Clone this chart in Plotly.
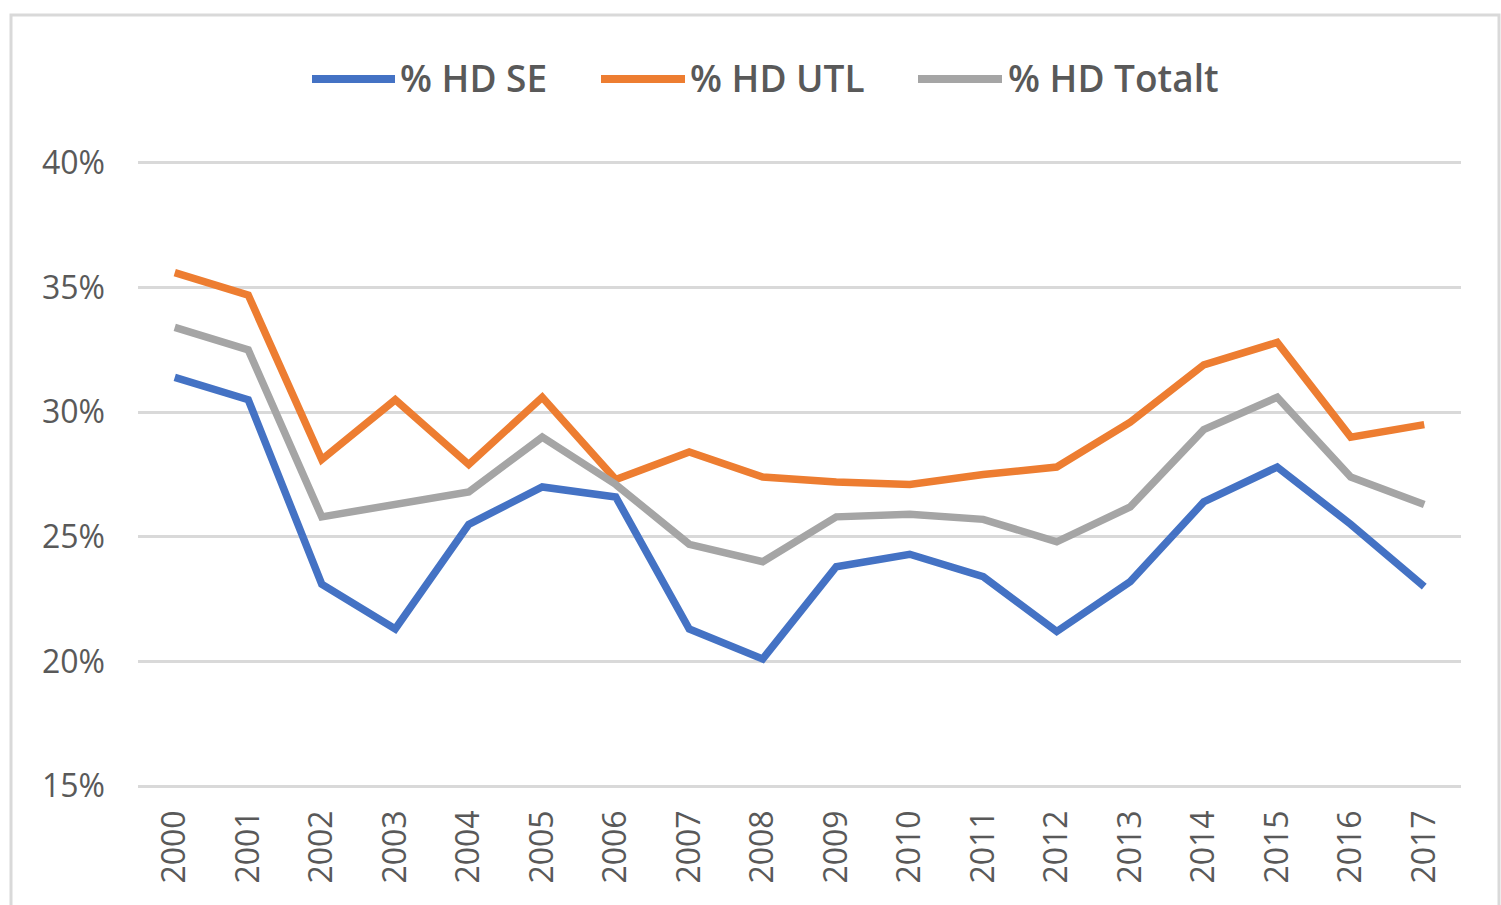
import plotly.graph_objects as go

years = [str(y) for y in range(2000, 2018)]
hd_se = [31.4, 30.5, 23.1, 21.3, 25.5, 27.0, 26.6, 21.3, 20.1, 23.8, 24.3, 23.4, 21.2, 23.2, 26.4, 27.8, 25.5, 23.0]
hd_utl = [35.6, 34.7, 28.1, 30.5, 27.9, 30.6, 27.3, 28.4, 27.4, 27.2, 27.1, 27.5, 27.8, 29.6, 31.9, 32.8, 29.0, 29.5]
hd_tot = [33.4, 32.5, 25.8, 26.3, 26.8, 29.0, 27.1, 24.7, 24.0, 25.8, 25.9, 25.7, 24.8, 26.2, 29.3, 30.6, 27.4, 26.3]
series_names = ["% HD SE", "% HD UTL", "% HD Totalt"]
colors = ["#4472C4", "#ED7D31", "#A5A5A5"]
y_ticks = [15, 20, 25, 30, 35, 40]
y_tick_labels = ["15%", "20%", "25%", "30%", "35%", "40%"]

W, H = 1501, 905
L, R, T, B = 138, 40, 158, 114
pw, ph = W - L - R, H - T - B

def px(x):
    return (x - L) / pw

def py(y):
    return (H - B - y) / ph

fig = go.Figure()
for name, vals, c in zip(series_names, [hd_se, hd_utl, hd_tot], colors):
    fig.add_trace(go.Scatter(x=years, y=vals, mode="lines", name=name,
                             line=dict(color=c, width=7.5), showlegend=False))

shapes = []
annotations = []
# border
shapes.append(dict(type="rect", xref="paper", yref="paper",
                   x0=px(11), x1=px(1499), y0=py(912), y1=py(15),
                   line=dict(color="#D9D9D9", width=3), layer="below"))
# manual legend
leg_y = 79
leg = [(312, 395, 400), (601, 685, 690), (918, 1002, 1008)]
for (x0, x1, tx), name, c in zip(leg, series_names, colors):
    shapes.append(dict(type="line", xref="paper", yref="paper",
                       x0=px(x0), x1=px(x1), y0=py(leg_y), y1=py(leg_y),
                       line=dict(color=c, width=8)))
    annotations.append(dict(xref="paper", yref="paper", x=px(tx - 2), y=py(leg_y - 1),
                            xanchor="left", yanchor="middle", showarrow=False,
                            text=name, font=dict(family="Open Sans", size=37,
                                                 color="#595959", weight=600)))

fig.update_layout(
    width=W, height=H,
    margin=dict(l=L, r=R, t=T, b=B),
    paper_bgcolor="white", plot_bgcolor="white",
    showlegend=False,
    shapes=shapes, annotations=annotations,
    xaxis=dict(type="category", range=[-0.5, 17.5], tickangle=-90, showgrid=False,
               zeroline=False, showline=False, ticks="", ticklabelstandoff=12,
               tickfont=dict(family="Open Sans", size=32, color="#595959")),
    yaxis=dict(range=[14.8, 40.2], tickvals=y_ticks, ticktext=y_tick_labels,
               showgrid=True, gridcolor="#D9D9D9", gridwidth=3, zeroline=False,
               showline=False, ticks="", ticklabelstandoff=32,
               tickfont=dict(family="Open Sans", size=32, color="#595959")),
)

fig.write_html("out.html", config={"displayModeBar": False},
               post_script="document.body.style.margin='0';")
